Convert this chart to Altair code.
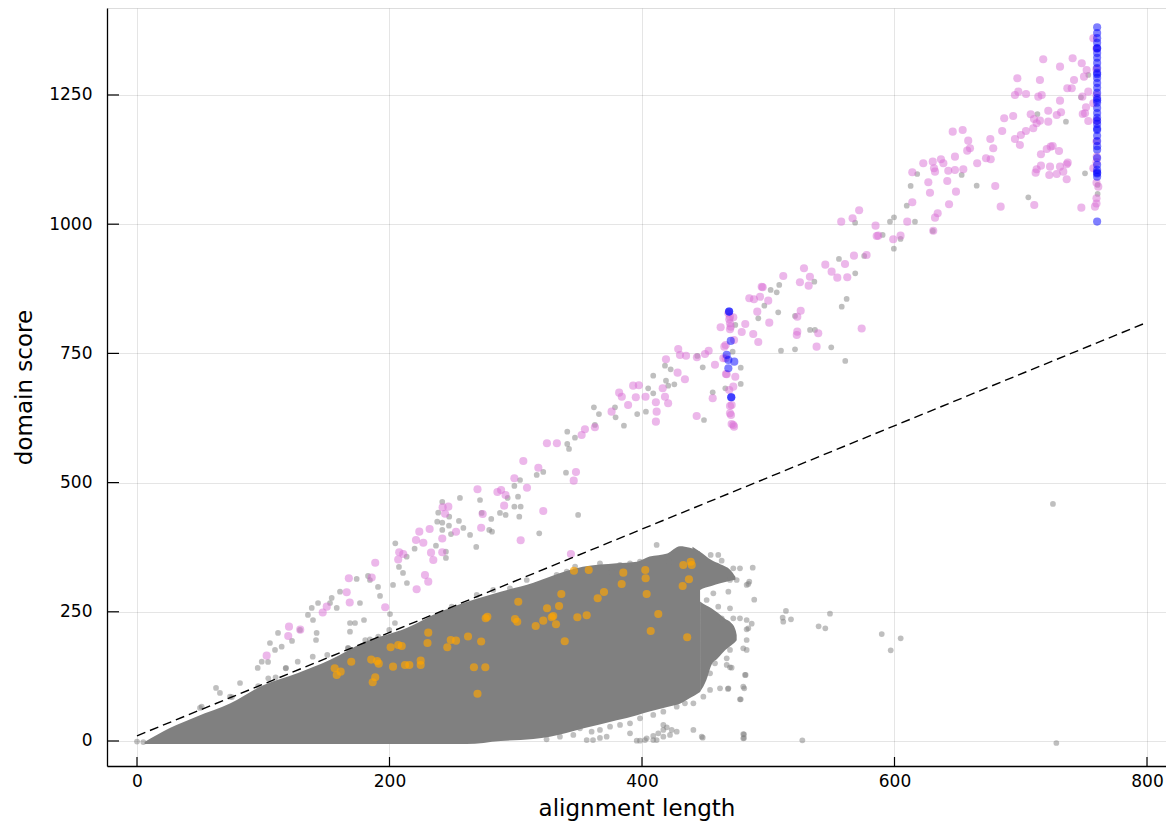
import altair as alt
import pandas as pd

# ---------------- data ----------------
# dense core of the gray cloud: outline as x with upper/lower score
core_x = [6, 26, 47, 74, 100, 127, 153, 179, 214, 240, 261, 288, 314, 327, 353, 380, 396, 406, 420, 430, 438, 446]
core_hi = [-2, 25, 47, 73, 108, 131, 157, 190, 219, 250, 269, 289, 306, 318, 337, 344, 347, 357, 363, 377, 374, 366]
core_lo = [-6, -6, -6, -6, -6, -6, -6, -6, -6, -6, -6, 0, 4, 8, 24, 40, 50, 57, 66, 72, 83, 95]
# lower right lobe of the cloud
lobeB_x = [446, 451, 455, 460, 466, 470, 474, 475]
lobeB_hi = [270, 262, 257, 248, 236, 230, 215, 205]
lobeB_lo = [95, 118, 147, 160, 176, 184, 192, 195]
# upper right lobe of the cloud
lobeC_x = [440, 446, 455, 462, 470, 474]
lobeC_hi = [376, 366, 350, 342, 331, 318]
lobeC_lo = [279, 292, 300, 305, 310, 312]

gray_x = [5, 0, 62.6, 65.7, 81.6, 75.2, 49.9, 95.6, 98.8, 103.8, 105.3, 109.3, 111.7, 114.6, 118, 122.8, 127.3, 129.1,
          135.4, 138.4, 139.4, 142.3, 141.8, 143.4, 152.9, 154.2, 158.2, 160.8, 167.1, 168.7, 168.7, 172.7, 174, 176.6,
          179.8, 183, 184.5, 190.9, 192.5, 200.4, 202.8, 204.3, 210.7, 213.8, 207.5,
          51.2, 73.7, 96, 104, 109.8, 117.8, 139.2, 150.7, 167.4, 180.8, 184.5, 191.1, 199.8,
          340.8, 346.9, 340.8, 342.2, 339.8, 316.6, 321.8, 303.4, 298.9, 301.8, 293.6, 298.9, 303.9, 302.8, 292, 287.5,
          280.6, 279, 281.2, 271.7, 255.8, 273, 268.7, 263.8, 258.5, 255, 248.7, 247.1, 247.3, 241.8, 238.6, 241.8,
          237.8, 241.8, 236.8, 244.7, 244.7, 318.6, 204.6, 219.9, 213.6, 349.4,
          361.9, 365.9, 362.7, 378.6, 379.1, 385.7, 396.2, 403.1, 404.9, 408.9, 408.9, 418.2, 422.7, 419, 425.6, 420.8,
          443.8, 448.1, 456, 449.1, 466, 471.8, 478.2, 478.2, 473.9, 492.1, 496.9, 501.9, 506.7, 508.7, 507.9, 521.2,
          510.1, 521.2, 533.1, 537, 536.5, 549.9, 558.2, 562.1, 568.9, 556, 576, 561,
          568.8, 604.8, 599.5, 630.4, 713.2, 735.8, 750.9, 760.9, 760.9, 706, 665.1, 653.2, 618, 612.8, 609.7, 599.6,
          596.4, 616.2, 590.6, 753.5, 747.7,
          487.7, 485, 482.9, 488.9, 514, 511.4, 511.9, 518, 548.9, 539.9, 545.2, 589.9, 604.9, 597, 486.9, 482.9, 482.9,
          482.9, 482.1, 481, 478.2, 471, 468.1, 480.8, 480.8, 527, 728.2, 448.1, 467.1, 725.5,
          249.3, 269.1, 282.2, 295.4, 308.7, 332.4, 340.4, 347, 366.7, 376, 382.6, 390.5, 398.4, 411.6, 423.5, 421.6,
          454.4, 460.4, 463.1, 472.3, 477.6, 484.2, 469.7, 475, 468.4, 456.5, 451.2, 460.4, 469.7, 477.6, 482.9, 472.3,
          463.1, 484.2, 480.2, 469.7, 467.1, 469.7, 457.8, 453.9, 481.6, 468.4, 480.2, 461.8, 477.6, 453.9, 448.6,
          440.7, 434, 427.5, 416.9, 408.9, 398.4, 390.5, 382.6, 374.7, 366.7, 360.1, 350.9, 345.6, 335, 324.4, 440.7,
          447.3, 480.2, 480.2, 390.5,
          398.4, 403.7, 408.9, 412.9, 416.9, 419.6, 423.5, 427.5, 411.6, 416.9, 422.2, 408.9, 416.9, 402.4, 395.8,
          366.7, 361.2, 356.2, 372]
gray_y = [-2, -1, 102.6, 92.9, 112.2, 85.1, 63.9, 141.3, 153.4, 152.9, 189.6, 176.1, 209, 182.5, 141.3, 193.5, 153.4,
          214.8, 243.8, 257.4, 234.1, 209, 195.4, 267, 267, 276.7, 257.4, 288.9, 180, 228.3, 211.5, 228.3, 313.5, 267,
          234.1, 319.3, 311.5, 298, 280.6, 245.7, 301.9, 228.3, 325.1, 305.7, 336.7,
          66.4, 85.7, 106.4, 121.3, 123.3, 140.7, 163.1, 166.4, 179.4, 195.4, 196.8, 201.8, 214.8,
          598.5, 586.9, 574.7, 565, 519.2, 514.7, 520.5, 505, 493.4, 472.7, 470.2, 453.4, 453.4, 434, 437.3, 441.2,
          429.6, 408.3, 405, 466.3, 470.2, 441.2, 375.4, 398.6, 412.2, 425.7, 400.5, 416.6, 434, 462.5, 441.8, 422.4,
          424.3, 408.3, 377.9, 366.3, 354.1, 401.9, 382.5, 372.1, 356.6, 437.3,
          645.7, 632.7, 611.5, 645.7, 626.4, 610.1, 632.7, 637.2, 682.5, 706.9, 672.8, 726.2, 719.2, 697.2, 690.2, 687.5,
          745, 723.1, 674.7, 621.1, 682.5, 753.3, 722.3, 690.8, 805, 817.9, 842.3, 872.7, 868.2, 882.4, 829.5, 822.4,
          755.2, 757.9, 795.3, 795.3, 888.8, 761.8, 840.4, 855.3, 905, 932.7, 938.5, 735.3,
          1002.9, 971.4, 952.6, 986.9, 1213.2, 1198.4, 1098.5, 1058.5, 1075.9, 1052.1, 1074.5, 1095.2, 1097.1, 1073.9,
          1035.8, 1013.4, 1004.9, 1004.9, 979.1, 1288.7, 1245.6,
          335.3, 308.3, 301.9, 273.4, 251.6, 238.6, 230.8, 235.5, 246.3, 221.9, 218.1, 207, 198.7, 175.5, 227, 216.1,
          195.4, 176.1, 127.7, 102, 80.7, 141.8, 100.6, 13, 5.8, 1.4, -3.9, 6.4, 147.1, 458.6,
          259.9, 282.5, 292.2, 295.5, 311.5, 321.2, 327.6, 337.3, 343.8, 327.6, 340.6, 343.8, 347, 379.3, 359.9, 347,
          359.9, 359.9, 348.9, 334.2, 334.2, 303.8, 311.5, 311.5, 288.9, 285.8, 272.8, 259.9, 256.8, 237.4, 234.1,
          237.4, 237.4, 218.1, 179.4, 176.1, 160, 142.6, 150.3, 131, 127.7, 102, 105.1, 102, 80.7, 98.7, 85.7, 72.9,
          72.9, 66.4, 56.7, 50.3, 43.9, 34.2, 31, 27.7, 21.3, 18, 24.6, 11.6, 8.3, 3.3, 21.3, 8.3, 13.5, 5.2, 14.9,
          0.6, 5.2, 9.7, 14.9, 21.3, 26.5, 21.3, 18, 1.9, 8.3, 11.6, 1.9, 31, 1.9, 0.6, 5.8, 1.9, 1.9, 8.3]

magenta_x = [102.7, 120.4, 119.8, 129.3, 147.1, 150.3, 166.1, 168.5, 167.8, 185.9, 188.7, 196.6, 207.7, 206.9, 210.9,
             221.5, 228.1, 230.7, 221, 223.6, 226.8, 231.8, 232.9, 234.7, 241.8, 241.8, 252.7, 242.1, 246.6, 244,
             272.6, 273.8, 269.7, 285.5, 288.4, 291.9, 290.8, 298.9, 306, 308.9, 317.9, 321.8, 303.9, 324.7, 332.6,
             347.7, 345.9, 352.2, 343.7,
             354.8, 362.7, 375.9, 381.9, 384, 389, 393, 397.5, 395.1, 402.8, 411, 411, 420.7, 411.6, 418.2, 416.4, 419,
             428.2, 434, 428.7, 430.1, 434.9, 443.3, 452.8, 449.9, 457.8, 456, 462.3, 465.2, 466.3, 468.4, 472.3, 469.1,
             479, 481.8, 488.1, 492.1, 466.5, 473.9, 472.3, 471, 469.7, 471, 472.9, 470.3, 485, 488.7, 493.5, 495.6, 500,
             491.3, 500.8, 511.9, 523, 525.7, 523, 528.3, 525.1, 532, 533, 538.3, 539.6, 545.2, 550.2, 554.7, 562.6,
             560.8, 567.9, 577.9, 585.9, 574, 466.3, 472.9, 464.4, 467.1, 469.1, 469.7, 470.5, 472.3, 443.5, 494.8,
             522.6, 469.7, 469.7, 469.7,
             557.8, 566.8, 572, 585, 587.1, 599, 604.8,
             717.8, 741.1, 748.3, 731.1, 697.3, 715.2, 742.2, 752.2, 736.9, 740.4, 750.1, 753.5, 748.8, 698.1, 695.4,
             704.2, 713.9, 716.6, 731.1, 751.7, 749.1, 753.5, 721.8, 728.5, 731.9, 707.9, 710.5, 712.6, 715.2, 721.8,
             686.9, 694, 685.3, 704.1, 700.1, 695.4, 699.3, 709.9, 675.9, 678.2, 646.1, 654, 658.4, 659.8, 657.6, 647.9,
             672.5, 676.2, 665.5, 622.8, 630.3, 636.8, 638.7, 631.3, 632.1, 642.6, 647.9, 654.5, 614.1, 626.8, 641.8,
             628.1, 648.7, 614.1, 643.2, 634.2, 632.1, 610.1, 630.7, 679.8, 684.1, 710.7, 716, 723.7, 725.3, 720.6,
             730.3, 712.6, 711.8, 716, 723.2, 722.6, 731.1, 737.2, 736.4, 733.7, 736.4, 728.5, 748, 757.5, 758.8, 761.4,
             760.2, 757.5, 750.9, 757.5,
             760, 760, 760, 760, 760, 760, 760, 760, 760]
magenta_y = [165.1, 221.2, 203.2, 215.4, 248.7, 259.9, 287.7, 268, 314.8, 316.4, 345, 258.7, 365.1, 351.2, 361.8,
             293.5, 321.2, 308.3, 388.9, 405, 383.7, 410.2, 364.4, 350.2, 391.8, 365.1, 404.8, 452.2, 453.4, 439.8,
             412.7, 439.2, 487, 481.8, 485.7, 476, 455.3, 508.3, 541.8, 490.1, 528.8, 445, 388.3, 576, 576,
             520.5, 503.7, 592.1, 361.8,
             603.1, 607, 637.2, 674, 666.2, 650.2, 687.5, 688.3, 665.1, 666.2, 655.4, 617.9, 653.5, 637.2, 666.2, 682.5,
             738.6, 712.7, 699.9, 758.5, 746.9, 745.5, 628.9, 755.2, 748.8, 728.1, 663.1, 800.5, 763, 740.5, 827.6,
             819.9, 816, 791.4, 806.9, 787.5, 772.1, 710.1, 704.9, 685.6, 650.2, 634.1, 613.4, 608.2, 801.7, 856.6,
             854.7, 859.7, 877.9, 852, 830.7, 809.4, 899.8, 792, 832.6, 821, 914.7, 887.6, 881, 898.4, 763, 788.9,
             921.7, 908.1, 896.5, 897.3, 923, 939.1, 940.4, 977.2, 798.2, 766.3, 775.9, 740.5, 709.6, 679.2, 648.2,
             630.8, 611.5, 742.4, 879, 785.6, 821, 808.3, 796.6,
             1004.9, 1011.4, 1026.9, 997.1, 977.8, 970.8, 977.8,
             1319.1, 1321, 1311.4, 1304.8, 1282.3, 1279.1, 1279.1, 1298.4, 1263, 1263, 1285.4, 1256.4, 1246.7, 1256.4,
             1250, 1251.9, 1246.7, 1250, 1239, 1226.2, 1213.2, 1199.7, 1219.6, 1211.3, 1216.5, 1212.7, 1203.6, 1195.3,
             1200.3, 1198.4, 1204.9, 1209.4, 1180.4, 1180.4, 1172.6, 1164.9, 1153.3, 1185.6, 1164.9, 1146.9, 1179,
             1182.3, 1161.6, 1146.9, 1142.3, 1130.6, 1127.5, 1125.6, 1117.9, 1117.9, 1121, 1125.6, 1117.9, 1108.2,
             1101.6, 1103.5, 1104.9, 1106.2, 1100.4, 1081.1, 1083.6, 1060.9, 1062.9, 1042.4, 1038.5, 1021.1, 1012.6,
             1004.9, 987.4, 1073.9, 1033.9, 1037.2, 1135.3, 1150, 1151.3, 1145.5, 1141.7, 1106.2, 1099.7, 1113.2,
             1111.3, 1095.2, 1111.3, 1119, 1115.9, 1101.6, 1086.9, 1097.1, 1032, 1359.7, 1033.9, 1072.6, 1130.6,
             1108.2, 1214.6, 1233.9,
             1340, 1300, 1250, 1200, 1160, 1120, 1080, 1050, 1040]

blue_x = [760.5, 760.5, 760.5, 760.5, 760.5, 760.5, 760.5, 760.5, 760.5, 760.5, 760.5, 760.5, 760.5, 760.5, 760.5,
          760.5, 760.5, 760.5, 760.5, 760.5, 760.5, 760.5, 760.5, 760.5, 760.5, 760.5, 760.5, 760.5, 760.5, 760.5,
          760.5, 760.5, 760.5, 760.5, 760.5, 760.5, 760.5,
          469, 469, 470.3, 467.1, 468.4, 473.1, 468.4, 470.7, 470.7]
blue_y = [1381, 1370, 1360, 1351, 1341, 1331, 1322, 1312, 1302, 1293, 1283, 1273, 1264, 1254, 1244, 1235, 1225, 1215,
          1206, 1194, 1182, 1171, 1161, 1151, 1144, 1128, 1115, 1105, 1098, 1092, 1005, 1340, 1290, 1240, 1200, 1185,
          1100,
          830.8, 830.8, 774.1, 747, 737.3, 734, 721.2, 665.1, 665.1]

orange_x = [209.7, 212.3, 215.7, 224.7, 224.7, 230.7, 230.1, 245.8, 248.5, 252.7, 262.2, 272.6, 266.9, 275.9, 269.7,
            276.2, 277.5, 299.4, 301.2, 302, 315.8, 321.8, 324.8, 328.5, 329.7, 331.9, 334.3, 336.1, 338.8, 346.1,
            357.8, 348.8, 356.2, 364.9, 369.9, 383.9, 385.2, 402.6, 402.9, 403.7, 412.9, 406.9, 432.2, 437.2, 432.7,
            438.6, 439.4, 435.8, 156.6, 158.2, 161.3, 169.7, 185.5, 190.2, 191.5, 202.8, 200.9, 206.9, 188.7, 186.7]
orange_y = [183.8, 147.1, 147.1, 155.4, 147.1, 209.6, 189.6, 181.3, 195.4, 194.1, 202.2, 192.5, 142.6, 142.6, 91.5,
            237.4, 240.5, 236.1, 230.8, 269.5, 222.5, 232.8, 256.8, 239.4, 241.9, 225.8, 261.2, 284.4, 192.9, 329.5,
            330.9, 239.4, 243.2, 276.1, 288.3, 303.8, 325.7, 330.9, 314.8, 284.4, 245.7, 212.9, 299.9, 312.9, 340.6,
            346.9, 340.6, 200.7, 140.7, 127.7, 134.1, 153.4, 157.5, 154.8, 149.6, 143.8, 181.3, 185.8, 123.3, 113.6]

line_x = [0, 797]
line_y = [10, 807]

x_ticks = [0, 200, 400, 600, 800]
y_ticks = [0, 250, 500, 750, 1000, 1250]

# ---------------- chart ----------------
FONT = "DejaVu Sans"
W, H = 1059, 758
XS = alt.Scale(domain=[-23.76, 815.05], nice=False, zero=False)
YS = alt.Scale(domain=[-48.4, 1418.3], nice=False, zero=False)

ax_x = alt.Axis(values=x_ticks, format="d", title="alignment length", grid=True, ticks=False, domain=True,
                domainColor="black", domainWidth=1.3, gridColor="black", gridOpacity=0.1, gridWidth=1,
                labelFont=FONT, labelFontSize=17, labelColor="black", labelPadding=7,
                titleFont=FONT, titleFontSize=23, titleFontWeight="normal", titleColor="black", titlePadding=8)
ax_y = alt.Axis(values=y_ticks, format="d", title="domain score", grid=True, ticks=False, domain=True,
                domainColor="black", domainWidth=1.3, gridColor="black", gridOpacity=0.1, gridWidth=1,
                labelFont=FONT, labelFontSize=17, labelColor="black", labelPadding=15,
                titleFont=FONT, titleFontSize=23, titleFontWeight="normal", titleColor="black", titlePadding=12)


def X(field="x"):
    return alt.X(f"{field}:Q", scale=XS, axis=ax_x)


def Y(field="y"):
    return alt.Y(f"{field}:Q", scale=YS, axis=ax_y)


core_df = pd.DataFrame({"x": core_x, "y": core_hi, "y2": core_lo})
lobeB_df = pd.DataFrame({"x": lobeB_x, "y": lobeB_hi, "y2": lobeB_lo})
lobeC_df = pd.DataFrame({"x": lobeC_x, "y": lobeC_hi, "y2": lobeC_lo})
gray_df = pd.DataFrame({"x": gray_x, "y": gray_y})
mag_df = pd.DataFrame({"x": magenta_x, "y": magenta_y})
blue_df = pd.DataFrame({"x": blue_x, "y": blue_y})
orange_df = pd.DataFrame({"x": orange_x, "y": orange_y})
line_df = pd.DataFrame({"x": line_x, "y": line_y})
xt_df = pd.DataFrame({"x": x_ticks})
yt_df = pd.DataFrame({"y": y_ticks})


def cloud(d):
    return alt.Chart(d).mark_area(color="#808080", opacity=1, interpolate="monotone").encode(
        x=X(), y=Y(), y2="y2:Q")


gray = alt.Chart(gray_df).mark_circle(color="#808080", opacity=0.5, size=33).encode(x=X(), y=Y())
orange = alt.Chart(orange_df).mark_circle(color="#ffa500", opacity=0.65, size=66).encode(x=X(), y=Y())
mag = alt.Chart(mag_df).mark_circle(color="#da70d6", opacity=0.5, size=66).encode(x=X(), y=Y())
blue = alt.Chart(blue_df).mark_circle(color="#0000ff", opacity=0.5, size=66).encode(x=X(), y=Y())
dash = alt.Chart(line_df).mark_line(color="black", strokeWidth=1.4, strokeDash=[9, 5]).encode(x=X(), y=Y())
xt = alt.Chart(xt_df).mark_rule(color="black", strokeWidth=1.2).encode(
    x=X(), y=alt.value(H), y2=alt.value(H - 9))
yt = alt.Chart(yt_df).mark_rule(color="black", strokeWidth=1.2).encode(
    y=Y(), x=alt.value(0), x2=alt.value(12))

chart = alt.layer(cloud(core_df), cloud(lobeB_df), cloud(lobeC_df), gray, orange, mag, blue, dash, xt, yt).properties(
    width=W, height=H,
    autosize=alt.AutoSizeParams(type="none"),
    padding={"left": 99, "top": 0, "right": 0, "bottom": 57},
).configure_view(stroke=None).configure(font=FONT)

chart.save("out.html", embed_options={"renderer": "svg", "actions": False})
